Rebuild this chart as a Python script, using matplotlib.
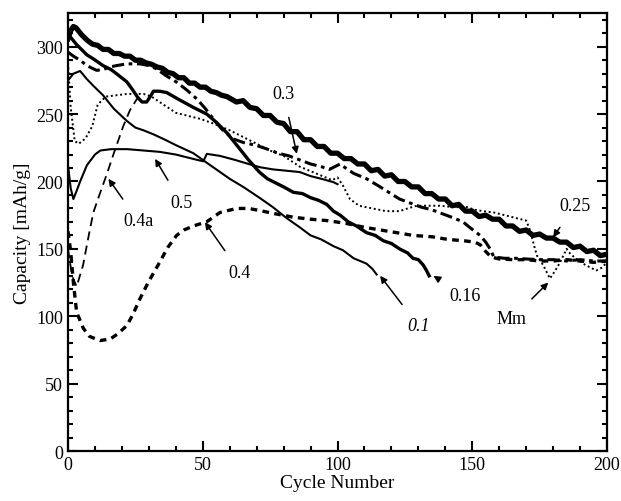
import matplotlib
matplotlib.use("Agg")
import matplotlib.pyplot as plt
from matplotlib.ticker import MultipleLocator

plt.rcParams['font.family'] = ['Liberation Serif', 'DejaVu Serif']

# ---- data (cycle number, capacity mAh/g) ----
c025_x = [0, 1, 2, 3, 5, 7, 9, 11, 13, 15, 17, 19, 21, 23, 25, 27, 29, 31, 33, 35, 37, 39, 41, 43, 45, 47, 49, 51, 53, 55, 57, 59,
          62.5, 65, 67.5, 70, 72.5, 75, 77.5, 80, 82.5, 85, 87.5, 90, 92.5, 95, 97.5, 100, 102.5, 105, 107.5, 110, 112.5, 115, 117.5, 120,
          122.5, 125, 127.5, 130, 132.5, 135, 137.5, 140, 142.5, 145, 147.5, 150, 152.5, 155, 157.5, 160, 162.5, 165, 167.5, 170,
          172.5, 175, 177.5, 180, 182.5, 185, 187.5, 190, 192.5, 195, 197.5, 200]
c025_y = [306, 312, 315, 314, 309, 305, 302, 301, 298, 298, 295, 295, 293, 293, 290, 290, 288, 287, 285, 284, 281, 280, 277, 277, 273, 273, 270, 270, 267, 266, 264, 263,
          259, 260, 255, 254, 249, 249, 244, 243, 237, 237, 231, 231, 226, 226, 221, 221, 217, 217, 213, 213, 208, 209, 204, 205,
          200, 200, 196, 196, 191, 191, 187, 187, 182, 183, 178, 178, 174, 175, 172, 172, 167, 167, 163, 164,
          160, 161, 158, 158, 155, 155, 151, 152, 148, 149, 145, 146]

c03_x = [0, 2, 4.5, 7, 10.6, 13, 15.6, 18, 21.8, 26.7, 30, 32.9, 36, 40.3, 44, 47.8, 51, 53.9, 57, 61.3, 65, 70, 74, 78, 82, 86, 90, 94, 97, 99, 101, 103, 106, 110.8, 115, 119, 123, 127, 131, 135, 139, 143, 146.6, 149, 152.9, 155, 156.6, 158, 162, 166, 170, 175, 180, 185, 190, 195, 200]
c03_y = [296, 293, 290, 286, 282.5, 283, 285, 286, 287.3, 287.3, 286, 283.6, 279, 273.7, 268, 261.3, 254, 246.5, 239, 231.6, 229, 226.7, 224, 221, 219, 216, 213, 211, 209, 211, 213, 210, 206, 202, 197, 192, 187, 184, 181, 179, 176, 173, 170, 166, 160, 155, 150, 144, 143, 143, 142.5, 142, 142, 141, 142, 141, 141]

cMm_x = [0, 1, 2.5, 4, 6.5, 9, 11, 14, 18, 22, 28, 31, 34, 37, 40, 44, 49, 54, 60, 64, 68, 72, 76, 80, 86, 92, 98, 100, 102, 104.6, 108, 113, 118, 123, 126, 129.4, 134, 138, 143, 148, 151, 154, 158, 162, 166, 170, 171.4, 173, 174, 176.4, 178.8, 180.5, 182.6, 185, 186.5, 188.7, 192, 196, 198, 200]
cMm_y = [288, 255, 230, 228, 232, 241, 257, 263, 264, 265, 265, 263, 259, 255, 251, 249, 246.5, 243, 238, 234, 230, 226, 222, 219, 211, 206, 201, 203, 197, 187, 182, 180, 178, 178, 180, 182, 182, 182, 181, 181, 179, 178, 177, 175, 173, 171, 164, 152, 145, 137.6, 128, 133, 140, 150, 146, 142.5, 138, 134, 136, 140]

c016_x = [0, 1, 3, 5, 7, 9.4, 13, 16, 18, 21.8, 24, 26, 27.5, 29.2, 30.5, 31.7, 34, 36.6, 41, 46.5, 51.5, 55, 59, 63, 67, 71, 74, 77, 80, 83.6, 87, 90, 93, 96, 98.5, 101, 104, 107, 110.8, 114, 117, 120, 123, 126, 128, 130, 131.8, 133, 134]
c016_y = [306, 307, 302, 298, 294, 291, 286, 283, 280, 274, 268, 262, 259, 259, 263, 267, 267, 266, 261, 255, 250, 244, 236, 226, 216, 207, 202, 199, 196, 192, 191, 188, 186, 183, 178, 175, 170, 167, 162, 160, 156, 154, 150, 147, 143, 142, 138, 134, 130]

c01_x = [0, 2, 4.5, 7, 9.4, 13, 17, 21.8, 25, 28, 31.7, 36, 40, 46.5, 50, 55, 60, 65, 71, 76, 81, 86, 90, 94, 98.5, 102, 106, 110.8, 113, 114.5]
c01_y = [275, 280, 282, 276, 271, 264, 254, 245, 240, 238, 235, 231, 227, 221, 216, 209, 202, 196, 188, 181, 173, 166, 160, 157, 152, 149, 143, 139, 135, 131]

c05_x = [0, 1, 2, 3, 4.5, 7, 10, 12, 16, 22, 28, 34, 40, 44, 48, 50.2, 51.5, 56.4, 62, 67, 71.2, 76, 81, 86, 90, 94, 98.5, 100]
c05_y = [212, 195, 187, 192, 200, 212, 220, 223, 224, 224, 223, 222, 220, 218, 216, 215, 220.5, 219, 216, 213, 210.6, 209, 208, 207, 204, 202, 199.5, 198]

c04_x = [0, 1, 2, 3.2, 5.7, 8, 11.9, 15.6, 18.5, 21.8, 24, 26.7, 30, 34, 37, 40.3, 43, 46.5, 51.4, 56.4, 62.6, 67, 71.2, 77, 83.6, 90, 96, 103, 110, 116, 122, 128, 135, 141, 147, 151, 153, 155, 157, 160, 165, 170, 175, 180, 185, 190, 195, 200]
c04_y = [163, 148, 125, 103, 91, 85, 82, 83, 87, 93, 101, 113, 126, 140, 151, 160, 164, 167, 170, 177, 180, 180, 178.4, 176, 173.5, 172, 171, 169, 166, 164, 162, 160, 159, 157, 156, 155, 153, 148, 144, 142.5, 142, 142, 141, 141, 142, 141, 140, 141]

c04a_x = [0, 1.5, 3.2, 5.6, 7.5, 9.4, 12, 14.5, 17, 20.5, 23, 25.5, 28]
c04a_y = [150, 130, 122, 138, 158, 177, 192, 206, 221, 241, 253, 261, 264]

# labels: text, text position, arrow tip
labels = ["0.3", "0.25", "0.5", "0.4a", "0.4", "0.1", "0.16", "Mm"]
label_xy = [(80, 265), (188, 182), (42, 184.6), (26, 171), (63.8, 132.7), (130, 93), (147.3, 115.3), (164.6, 98)]
arrow_xy = [(84.9, 220.5), (180, 158.6), (32.3, 216.8), (15, 202), (50.8, 169.8), (115.8, 130), (135.6, 130), (178.2, 125)]

fig = plt.figure(figsize=(6.21, 5.02), dpi=100)
ax = fig.add_axes([0.1095, 0.0996, 0.868, 0.8724])

ax.plot(c04_x, c04_y, color='black', lw=2.4, linestyle=(0, (2.0, 1.6)))
ax.plot(c04a_x, c04a_y, color='black', lw=1.3, linestyle=(0, (5, 3)))
ax.plot(cMm_x, cMm_y, color='black', lw=1.4, linestyle=(0, (1.0, 1.4)))
ax.plot(c03_x, c03_y, color='black', lw=2.2, linestyle=(0, (4, 1.5, 1.2, 1.5)))
ax.plot(c05_x, c05_y, color='black', lw=1.5)
ax.plot(c01_x, c01_y, color='black', lw=1.5)
ax.plot(c016_x, c016_y, color='black', lw=2.4)
ax.plot(c025_x, c025_y, color='black', lw=3.8)

for t, (lx, ly), (axx, ayy) in zip(labels, label_xy, arrow_xy):
    style = 'italic' if t == '0.1' else 'normal'
    ax.annotate(t, xy=(axx, ayy), xytext=(lx, ly), textcoords='data',
                ha='center', va='center', fontsize=13, fontstyle=style,
                arrowprops=dict(arrowstyle='-|>', color='black', lw=1.1,
                                shrinkA=9, shrinkB=0, mutation_scale=10))

ax.set_xlim(0, 200)
ax.set_ylim(0, 325)
ax.xaxis.set_major_locator(MultipleLocator(50))
ax.xaxis.set_minor_locator(MultipleLocator(10))
ax.yaxis.set_major_locator(MultipleLocator(50))
ax.yaxis.set_minor_locator(MultipleLocator(10))
ax.tick_params(which='both', direction='in', top=True, right=True, labelsize=13, width=1.5)
ax.tick_params(which='major', length=7)
ax.tick_params(which='minor', length=3.5)
for s in ax.spines.values():
    s.set_linewidth(1.6)

ax.set_xlabel('Cycle Number', fontsize=14, labelpad=1)
ax.set_ylabel('Capacity [mAh/g]', fontsize=14, labelpad=4)

fig.savefig('out.png', dpi=100)
